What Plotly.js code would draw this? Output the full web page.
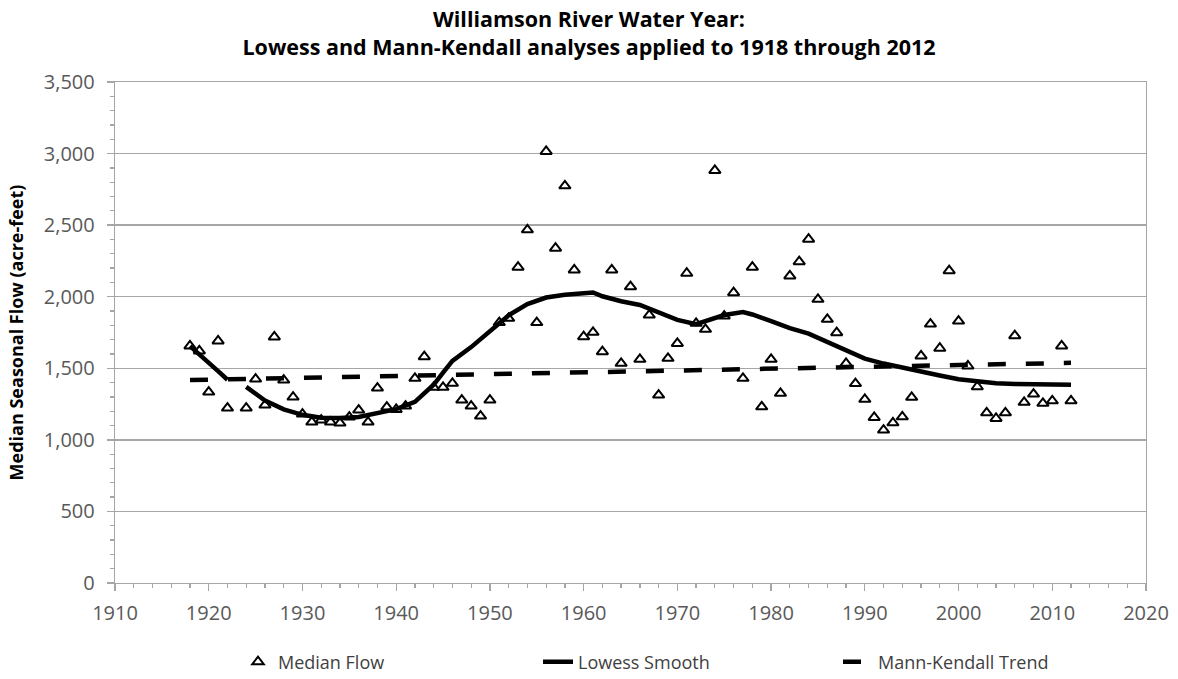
<!DOCTYPE html>
<html>
<head>
<meta charset="utf-8">
<script src="https://cdn.plot.ly/plotly-3.0.1.min.js"></script>
<style>
  html, body { margin: 0; padding: 0; background: #ffffff; }
  #chart { width: 1178px; height: 679px; }
</style>
</head>
<body>
<div id="chart"></div>
<script>
// Median Flow (water years 1918-2012; 1923 missing)
const years = [
  1918,1919,1920,1921,1922,1923,1924,1925,1926,1927,1928,1929,1930,1931,1932,1933,1934,1935,1936,1937,
  1938,1939,1940,1941,1942,1943,1944,1945,1946,1947,1948,1949,1950,1951,1952,1953,1954,1955,1956,1957,
  1958,1959,1960,1961,1962,1963,1964,1965,1966,1967,1968,1969,1970,1971,1972,1973,1974,1975,1976,1977,
  1978,1979,1980,1981,1982,1983,1984,1985,1986,1987,1988,1989,1990,1991,1992,1993,1994,1995,1996,1997,
  1998,1999,2000,2001,2002,2003,2004,2005,2006,2007,2008,2009,2010,2011,2012
];
const medianFlow = [
  1656,1621,1334,1691,1222,null,1222,1425,1243,1719,1418,1299,1180,1124,1138,1124,1117,1159,1208,1124,
  1362,1229,1212,1236,1430,1581,1367,1367,1395,1278,1236,1166,1278,1819,1849,2206,2467,1819,3015,2339,
  2775,2187,1721,1751,1616,2187,1535,2070,1563,1872,1313,1570,1674,2164,1814,1772,2882,1865,2028,1430,
  2206,1231,1563,1325,2145,2245,2402,1982,1842,1749,1535,1393,1283,1157,1068,1119,1161,1297,1586,1809,
  1640,2182,1830,1516,1371,1189,1150,1189,1728,1262,1320,1255,1273,1656,1273
];

// Lowess Smooth
const lowessYears = [
  1918,1919,1920,1921,1922,1923,1924,1926,1928,1930,1932,1934,1936,1938,1940,1942,1943,1944,1945,1946,
  1948,1950,1952,1954,1956,1958,1960,1961,1962,1964,1966,1968,1970,1972,1973,1975,1977,1978,1980,1982,
  1984,1986,1988,1990,1992,1994,1996,1998,2000,2002,2004,2006,2008,2010,2012
];
const lowessValues = [
  1655,1600,1540,1480,1420,null,1370,1275,1213,1175,1155,1153,1160,1185,1215,1265,1320,1385,1470,1552,
  1648,1756,1870,1948,1994,2013,2028,2030,2003,1968,1942,1887,1838,1808,1828,1872,1893,1876,1830,1780,
  1742,1683,1620,1568,1533,1508,1478,1450,1424,1408,1396,1390,1388,1383,1385
];

// Mann-Kendall Trend (straight trend line end points)
const trendYears = [1918, 2012];
const trendValues = [1418, 1538];

// Axis tick labels
const xTickVals = [1910,1920,1930,1940,1950,1960,1970,1980,1990,2000,2010,2020];
const yTickVals = [0,500,1000,1500,2000,2500,3000,3500];

const FONT = '"Open Sans", Lato, "Liberation Sans", sans-serif';
const axisGray = '#a6a6a6';

const traces = [
  {
    type: 'scatter', mode: 'markers', name: 'Median Flow',
    x: years, y: medianFlow,
    marker: { symbol: 'triangle-up', size: 10, color: '#ffffff', line: { color: '#000000', width: 2 } }
  },
  {
    type: 'scatter', mode: 'lines', name: 'Lowess Smooth',
    x: lowessYears, y: lowessValues, connectgaps: false,
    line: { color: '#000000', width: 4.5 }
  },
  {
    type: 'scatter', mode: 'lines', name: 'Mann-Kendall Trend',
    x: trendYears, y: trendValues,
    line: { color: '#000000', width: 4.5, dash: '18px,20px' }
  }
];

const layout = {
  width: 1178, height: 679,
  paper_bgcolor: '#ffffff', plot_bgcolor: '#ffffff',
  margin: { l: 115, r: 32, t: 82, b: 96 },
  font: { family: FONT, size: 19, color: '#595959' },
  title: {
    text: 'Williamson River Water Year:<br>Lowess and Mann-Kendall analyses applied to 1918 through 2012',
    font: { family: FONT, size: 21.5, color: '#000000', weight: 'bold' },
    x: 0.5, xanchor: 'center', xref: 'container',
    y: 0.9605, yanchor: 'top', yref: 'container'
  },
  xaxis: {
    range: [1910, 2020], tickvals: xTickVals, ticktext: xTickVals.map(String),
    showgrid: false, zeroline: false,
    showline: true, linecolor: axisGray, linewidth: 1.3, mirror: true,
    ticks: 'outside', ticklen: 7, tickcolor: axisGray, tickwidth: 1.3,
    ticklabelstandoff: 5,
    minor: { dtick: 2, tick0: 1910, ticks: 'outside', ticklen: 4, tickcolor: axisGray, tickwidth: 1.3, showgrid: false },
    tickfont: { family: FONT, size: 20, color: '#595959' }
  },
  yaxis: {
    range: [0, 3500], tickvals: yTickVals, tickformat: ',d',
    showgrid: true, gridcolor: axisGray, gridwidth: 1.3, zeroline: false,
    showline: true, linecolor: axisGray, linewidth: 1.3, mirror: true,
    ticks: 'outside', ticklen: 7, tickcolor: axisGray, tickwidth: 1.3,
    ticklabelstandoff: 8,
    minor: { dtick: 100, tick0: 0, ticks: 'outside', ticklen: 4, tickcolor: axisGray, tickwidth: 1.3, showgrid: false },
    tickfont: { family: FONT, size: 20, color: '#595959' },
    title: {
      text: 'Median Seasonal Flow (acre-feet)',
      font: { family: FONT, size: 18, color: '#000000', weight: 'bold' },
      standoff: 15
    }
  },
  showlegend: true,
  legend: {
    orientation: 'h',
    xref: 'container', yref: 'container',
    x: 238 / 1178, xanchor: 'left',
    y: (679 - 662) / 679, yanchor: 'middle',
    entrywidth: 255, entrywidthmode: 'pixels',
    font: { family: FONT, size: 18, color: '#404040' },
    bgcolor: 'rgba(0,0,0,0)'
  }
};

Plotly.newPlot('chart', traces, layout, { staticPlot: true, displayModeBar: false });
</script>
</body>
</html>
